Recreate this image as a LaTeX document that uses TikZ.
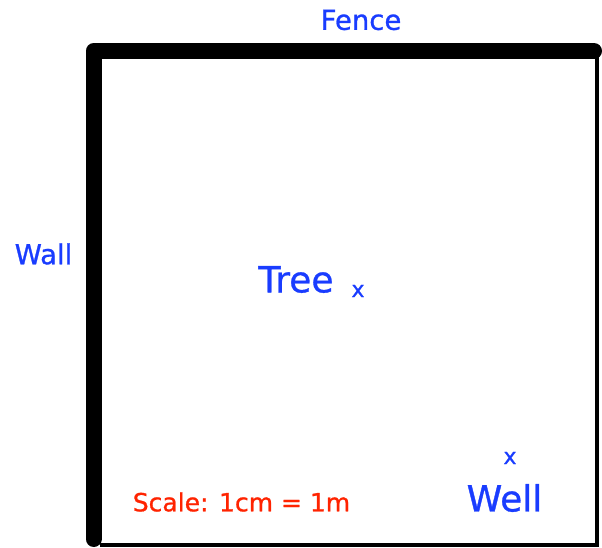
\documentclass[tikz,border=0pt]{standalone}
\usepackage{fontspec}
\setmainfont{DejaVu Sans}[FakeBold=0.9]
\usepackage{tikz}
\usetikzlibrary{positioning}
\definecolor{planblue}{RGB}{25,60,255}
\definecolor{planred}{RGB}{255,35,0}

\begin{document}
\begin{tikzpicture}[x=1pt, y=-1pt,
    place/.style={text=planblue, inner sep=0pt},
    side/.style={place, font=\fontsize{27.5}{30}\selectfont},
    spot/.style={place, font=\fontsize{36}{40}\selectfont},
    cross/.style={place, font=\fontsize{22}{24}\selectfont},
    border/.style={line width=16pt, line cap=round, line join=round},
    plot/.style={line width=4pt},
  ]
  \useasboundingbox (0,0) rectangle (602,547);

  % corners of the garden
  \coordinate (nw) at (93.5,51);
  \coordinate (ne) at (594,51);
  \coordinate (sw) at (93.5,539);
  \coordinate (se) at (597,544.5);
  \coordinate (nE) at (597,51);
  \coordinate (sW) at (100,544.5);

  \draw[plot] (nE) -- (se) -- (sW);
  \draw[border] (sw) -- (nw) -- (ne);

  \node[side] (fence) at (361,20) {Fence};
  \node[side] (wall) at (43.5,254) {Wall};
  \node[spot] (tree) at (296,279.5) {Tree};
  \node[cross] (treex) at (358,291) {x};
  \node[cross] (wellx) at (510,458) {x};
  \node[spot] (well) at (504.5,498) {Well};
  \node[inner sep=0pt, text=planred, font=\fontsize{25}{28}\selectfont]
    (scale) at (241.5,502) {Scale: 1cm = 1m};
\end{tikzpicture}
\end{document}
